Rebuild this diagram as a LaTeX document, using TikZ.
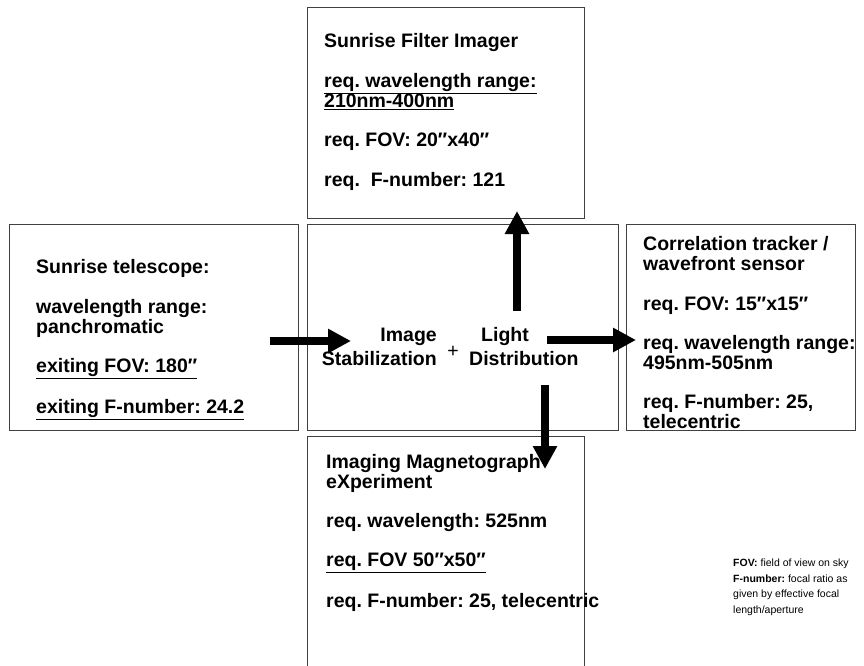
\documentclass[tikz,border=0pt]{standalone}
\usepackage{fontspec}
\setmainfont{Liberation Sans}
\usetikzlibrary{arrows.meta}
\frenchspacing
\begin{document}
\begin{tikzpicture}[x=1pt,y=-1pt,
  box/.style={draw=black!75, line width=1pt, inner sep=0pt, anchor=north west},
  txt/.style={anchor=north west, inner sep=0pt, align=left, font=\bfseries\fontsize{19.5}{20}\selectfont},
  ctxt/.style={anchor=base west, inner sep=0pt, font=\bfseries\fontsize{19.5}{20}\selectfont},
  bigarrow/.style={line width=8pt, -{Triangle[length=23pt,width=23pt]}},
  foot/.style={anchor=north west, inner sep=0pt, align=left, font=\fontsize{10.5}{15.5}\selectfont}]
\useasboundingbox (0,0) rectangle (864,666);
% boxes
\node[box, minimum width=277pt, minimum height=211pt] (sfi) at (307,7) {};
\node[box, minimum width=289pt, minimum height=206pt] (tel) at (9,224) {};
\node[box, minimum width=311pt, minimum height=206pt] (isld) at (307,224) {};
\node[box, minimum width=229pt, minimum height=206pt] (ct) at (626,224) {};
\node[box, minimum width=277pt, minimum height=240pt] (imax) at (307,436) {};
% texts
\node[txt] (sfitxt) at (324,33.5) {Sunrise Filter Imager\\[19.5pt]
\underline{req. wavelength range:}\\\underline{210nm-400nm}\\[19.5pt]
req. FOV: 20″x40″\\[19.5pt]
req.\ \ F-number: 121};
\node[txt] (teltxt) at (36,259.5) {Sunrise telescope:\\[19.5pt]
wavelength range:\\panchromatic\\[19.5pt]
\underline{exiting FOV: 180″}\\[19.5pt]
\underline{exiting F-number: 24.2}};
\node[txt] (cttxt) at (643,236.5) {Correlation tracker /\\wavefront sensor\\[19.5pt]
req. FOV: 15″x15″\\[19pt]
req. wavelength range:\\495nm-505nm\\[19pt]
req. F-number: 25,\\telecentric};
\node[txt] (imaxtxt) at (326,454.5) {Imaging Magnetograph\\eXperiment\\[19pt]
req. wavelength: 525nm\\[19pt]
\underline{req. FOV 50″x50″}\\[19.5pt]
req. F-number: 25, telecentric};
% centre texts
\node[ctxt, anchor=base east] (imgw) at (437,341) {Image};
\node[ctxt, anchor=base east] (stabw) at (437,365) {Stabilization};
\node[inner sep=0pt, font=\fontsize{19.5}{20}\selectfont] (plus) at (453,352) {+};
\node[ctxt] (lightw) at (481,341) {Light};
\node[ctxt] (distw) at (469,365) {Distribution};
% footnote
\node[foot] (note) at (733,559) {\textbf{FOV:} field of view on sky\\
\textbf{F-number:} focal ratio as\\given by effective focal\\length/aperture};
% arrows
\coordinate (inS) at (270,341);
\coordinate (inE) at (351,341);
\coordinate (outS) at (547,340);
\coordinate (outE) at (636,340);
\coordinate (upS) at (517,311);
\coordinate (upE) at (517,211);
\coordinate (dnS) at (545,385);
\coordinate (dnE) at (545,469);
\draw[bigarrow] (inS) -- (inE);
\draw[bigarrow] (outS) -- (outE);
\draw[bigarrow] (upS) -- (upE);
\draw[bigarrow] (dnS) -- (dnE);
\end{tikzpicture}
\end{document}
